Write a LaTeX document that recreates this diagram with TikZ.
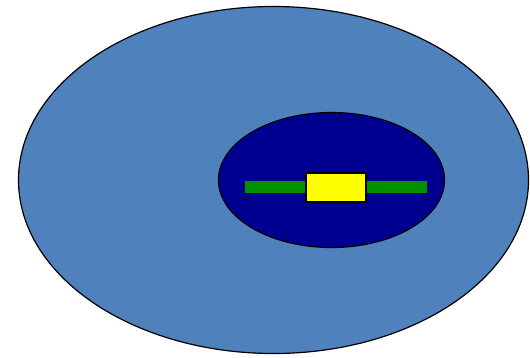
\documentclass[tikz,border=0pt]{standalone}
\usetikzlibrary{shapes.geometric}
\definecolor{outerblue}{HTML}{4F81BD}
\definecolor{innerblue}{HTML}{000090}
\definecolor{bargreen}{HTML}{009000}
\definecolor{boxyellow}{HTML}{FFFF00}
\begin{document}
\begin{tikzpicture}[x=1pt,y=-1pt,
  oval/.style={ellipse,draw=black,line width=1.2pt,inner sep=0pt},
  bar/.style={rectangle,fill=bargreen,draw=none,inner sep=0pt},
  block/.style={rectangle,fill=boxyellow,draw=black,line width=1.2pt,inner sep=0pt}]
\useasboundingbox (0,0) rectangle (530,357);
\node[oval,fill=outerblue,minimum width=510pt,minimum height=347pt] (outer) at (273.5,180) {};
\node[oval,fill=innerblue,minimum width=226pt,minimum height=135pt] (inner) at (331.5,180) {};
\node[bar,minimum width=182pt,minimum height=12pt] (rod) at (336,187) {};
\node[block,minimum width=60pt,minimum height=29pt] (core) at (336,187.5) {};
\end{tikzpicture}
\end{document}
